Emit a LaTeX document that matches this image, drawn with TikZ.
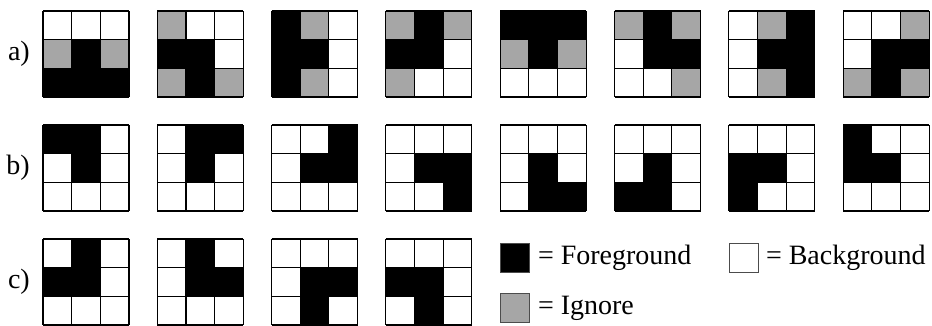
\documentclass[tikz,border=0pt]{standalone}
\usepackage{fontspec}
\setmainfont{Liberation Serif}
\colorlet{clB}{black}
\definecolor{clG}{gray}{0.65}
\colorlet{clW}{white}
\tikzset{
  gridline/.style={line width=1.1pt, draw=black},
  lbl/.style={font=\fontsize{28}{32}\selectfont, inner sep=0pt},
  legbox/.style={draw=black!70, line width=0.8pt, minimum size=29pt, inner sep=0pt, anchor=north west},
}
\newcommand\mygrid[3]{%
  \foreach \c [count=\i from 0] in {#3} {
    \pgfmathtruncatemacro\col{mod(\i,3)}
    \pgfmathtruncatemacro\row{int(\i/3)}
    \fill[fill=cl\c] ({#1+\col*28.67},{#2+\row*28.67}) rectangle ++(28.67,28.67);
  }
  \foreach \k in {0,1,2,3} {
    \draw[gridline] ({#1},{#2+\k*28.67}) -- ++(86,0);
    \draw[gridline] ({#1+\k*28.67},{#2}) -- ++(0,86);
  }
}
\begin{document}
\begin{tikzpicture}[x=1pt,y=-1pt]
\useasboundingbox (0,0) rectangle (932,325);
% row a
\node[lbl, anchor=east] (la) at (30,54) {a)};
\mygrid{43}{11}{W,W,W,G,B,G,B,B,B}
\mygrid{157.3}{11}{G,W,W,B,B,W,G,B,G}
\mygrid{271.6}{11}{B,G,W,B,B,W,B,G,W}
\mygrid{385.9}{11}{G,B,G,B,B,W,G,W,W}
\mygrid{500.2}{11}{B,B,B,G,B,G,W,W,W}
\mygrid{614.5}{11}{G,B,G,W,B,B,W,W,G}
\mygrid{728.8}{11}{W,G,B,W,B,B,W,G,B}
\mygrid{843.1}{11}{W,W,G,W,B,B,G,B,G}
% row b
\node[lbl, anchor=east] (lb) at (30,168) {b)};
\mygrid{43}{125}{B,B,W,W,B,W,W,W,W}
\mygrid{157.3}{125}{W,B,B,W,B,W,W,W,W}
\mygrid{271.6}{125}{W,W,B,W,B,B,W,W,W}
\mygrid{385.9}{125}{W,W,W,W,B,B,W,W,B}
\mygrid{500.2}{125}{W,W,W,W,B,W,W,B,B}
\mygrid{614.5}{125}{W,W,W,W,B,W,B,B,W}
\mygrid{728.8}{125}{W,W,W,B,B,W,B,W,W}
\mygrid{843.1}{125}{B,W,W,B,B,W,W,W,W}
% row c
\node[lbl, anchor=east] (lc) at (30,282) {c)};
\mygrid{43}{239}{W,B,W,B,B,W,W,W,W}
\mygrid{157.3}{239}{W,B,W,W,B,B,W,W,W}
\mygrid{271.6}{239}{W,W,W,W,B,B,W,B,W}
\mygrid{385.9}{239}{W,W,W,B,B,W,W,B,W}
% legend
\node[legbox, fill=black] (kf) at (500,243) {};
\node[lbl, anchor=west] (tf) at ([xshift=8pt]kf.east) {= Foreground};
\node[legbox, fill=white] (kb) at (729,243) {};
\node[lbl, anchor=west] (tb) at ([xshift=7pt]kb.east) {= Background};
\node[legbox, fill=clG] (kg) at (500,293) {};
\node[lbl, anchor=west] (tg) at ([xshift=8pt]kg.east) {= Ignore};
\end{tikzpicture}
\end{document}
